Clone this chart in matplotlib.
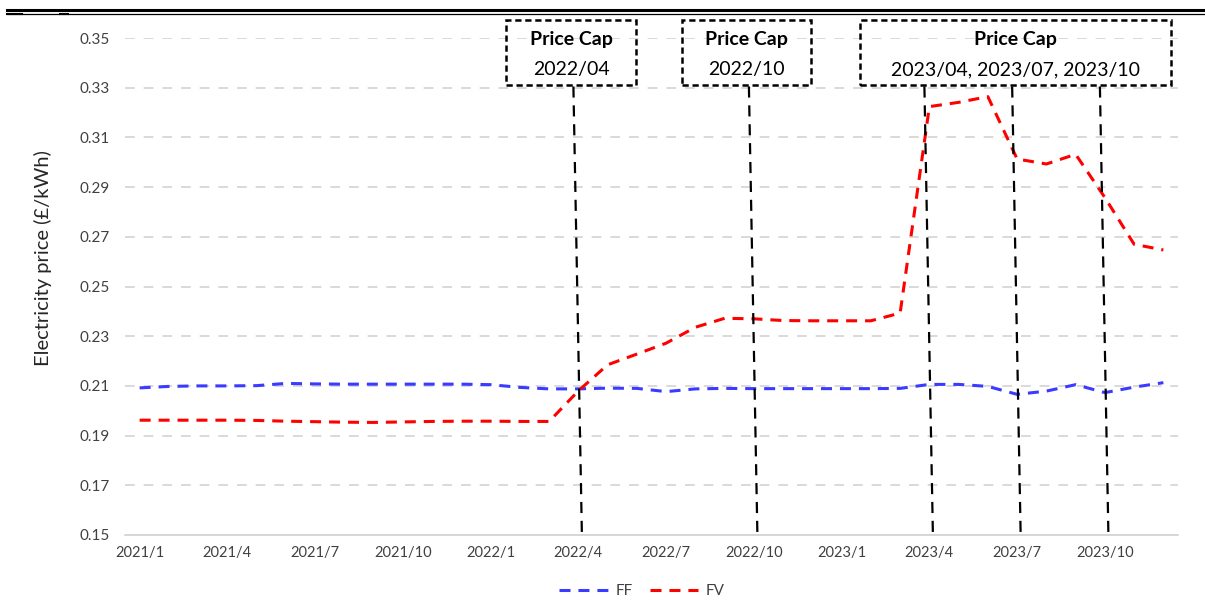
import numpy as np
import matplotlib
matplotlib.use("Agg")
import matplotlib.pyplot as plt
from matplotlib.patches import Rectangle
from matplotlib.lines import Line2D
import matplotlib.transforms as mtransforms

plt.rcParams["font.family"] = ["Lato", "DejaVu Sans"]

# monthly prices 2021/1 .. 2023/12 (£/kWh)
ff = [0.2092, 0.2098, 0.2100, 0.2100, 0.2101, 0.2110, 0.2108, 0.2107, 0.2107,
      0.2107, 0.2107, 0.2107, 0.2105, 0.2094, 0.2088, 0.2088, 0.2091, 0.2090,
      0.2077, 0.2088, 0.2090, 0.2089, 0.2089, 0.2089, 0.2089, 0.2089, 0.2090,
      0.2106, 0.2106, 0.2098, 0.2066, 0.2079, 0.2105, 0.2073, 0.2095, 0.2113]
fv = [0.1962, 0.1962, 0.1962, 0.1962, 0.1961, 0.1958, 0.1956, 0.1954, 0.1953,
      0.1955, 0.1957, 0.1958, 0.1958, 0.1957, 0.1957, 0.2080, 0.2185, 0.2228,
      0.2272, 0.2336, 0.2372, 0.2370, 0.2363, 0.2362, 0.2362, 0.2362, 0.2393,
      0.3224, 0.3241, 0.3264, 0.3013, 0.2993, 0.3032, 0.2858, 0.2670, 0.2647]

tick_labels = ["2021/1", "2021/4", "2021/7", "2021/10", "2022/1", "2022/4",
               "2022/7", "2022/10", "2023/1", "2023/4", "2023/7", "2023/10"]
yticks = [0.15, 0.17, 0.19, 0.21, 0.23, 0.25, 0.27, 0.29, 0.31, 0.33, 0.35]

# price cap change months (index from 2021/1)
cap_months = [15, 21, 27, 30, 33]
cap_boxes = [("2022/04", [15]), ("2022/10", [21]),
             ("2023/04, 2023/07, 2023/10", [27, 30, 33])]

W, H = 1205, 602
fig = plt.figure(figsize=(W / 100, H / 100), dpi=100)
ax = fig.add_axes([125 / W, 67 / H, 1053 / W, 497 / H])

x = np.arange(len(ff))
ax.set_xlim(-0.5, len(ff) - 0.5)
ax.set_ylim(0.15, 0.35)

for v in yticks[1:]:
    ax.axhline(v, color="#d9d9d9", lw=1.4, ls=(0, (5, 4.6)), zorder=0)

ax.plot(x, ff, color="#3b3bff", lw=2.2, ls=(0, (3.6, 2.6)), label="FF", zorder=3)
ax.plot(x, fv, color="#ff0000", lw=2.2, ls=(0, (3.6, 2.6)), label="FV", zorder=3)

# slanted black dashed markers
for m in cap_months:
    ax.plot([m - 0.17, m + 0.12], [0.3305, 0.1505], color="black", lw=1.6,
            ls=(0, (5, 3.5)), clip_on=False, zorder=4)

ax.set_yticks(yticks)
ax.set_yticklabels([f"{v:.2f}" for v in yticks], fontsize=11, color="#404040")
ax.set_xticks(x[::3])
ax.set_xticklabels(tick_labels, fontsize=10.5, color="#404040")
ax.tick_params(axis="both", length=0)
ax.tick_params(axis="y", pad=11)
ax.tick_params(axis="x", pad=8)
for s in ["top", "right", "left"]:
    ax.spines[s].set_visible(False)
ax.spines["bottom"].set_color("#d0d0d0")
ax.spines["bottom"].set_linewidth(1.2)

fig.text(43 / W, 1 - 258 / H, "Electricity price (£/kWh)", rotation=90,
         ha="center", va="center", fontsize=14.5, color="#262626")

# price cap boxes
trans = mtransforms.blended_transform_factory(ax.transData, fig.transFigure)
box_w = {1: 4.44, 3: 10.63}
for label, months in cap_boxes:
    cx = np.mean(months) - (0.25 if len(months) == 1 else 0.05)
    w = box_w[len(months)]
    rect = Rectangle((cx - w / 2, 1 - 85 / H), w, 65 / H, transform=trans,
                     fill=False, ec="black", lw=1.8, ls=(0, (2.5, 1.5)),
                     clip_on=False)
    fig.add_artist(rect)
    fig.text(cx, 1 - 40 / H, "Price Cap", transform=trans, ha="center",
             va="center", fontsize=14, fontweight="bold")
    fig.text(cx, 1 - 70 / H, label, transform=trans, ha="center",
             va="center", fontsize=14)

# double rule at the top
fig.add_artist(Line2D([7 / W, 1], [1 - 10 / H] * 2, color="black", lw=2.2))
fig.add_artist(Line2D([7 / W, 1], [1 - 13.5 / H] * 2, color="black", lw=0.9))
fig.add_artist(Line2D([7 / W, 22 / W], [1 - 14 / H] * 2, color="black", lw=1.5))
fig.add_artist(Line2D([60 / W, 68 / W], [1 - 14 / H] * 2, color="black", lw=1.5))

fig.legend(loc="center", bbox_to_anchor=(642 / W, 1 - 591 / H), ncol=2,
           frameon=False, fontsize=11, handlelength=3.2, handletextpad=0.5,
           columnspacing=1.1, labelcolor="#404040")

fig.savefig("out.png", dpi=100)
